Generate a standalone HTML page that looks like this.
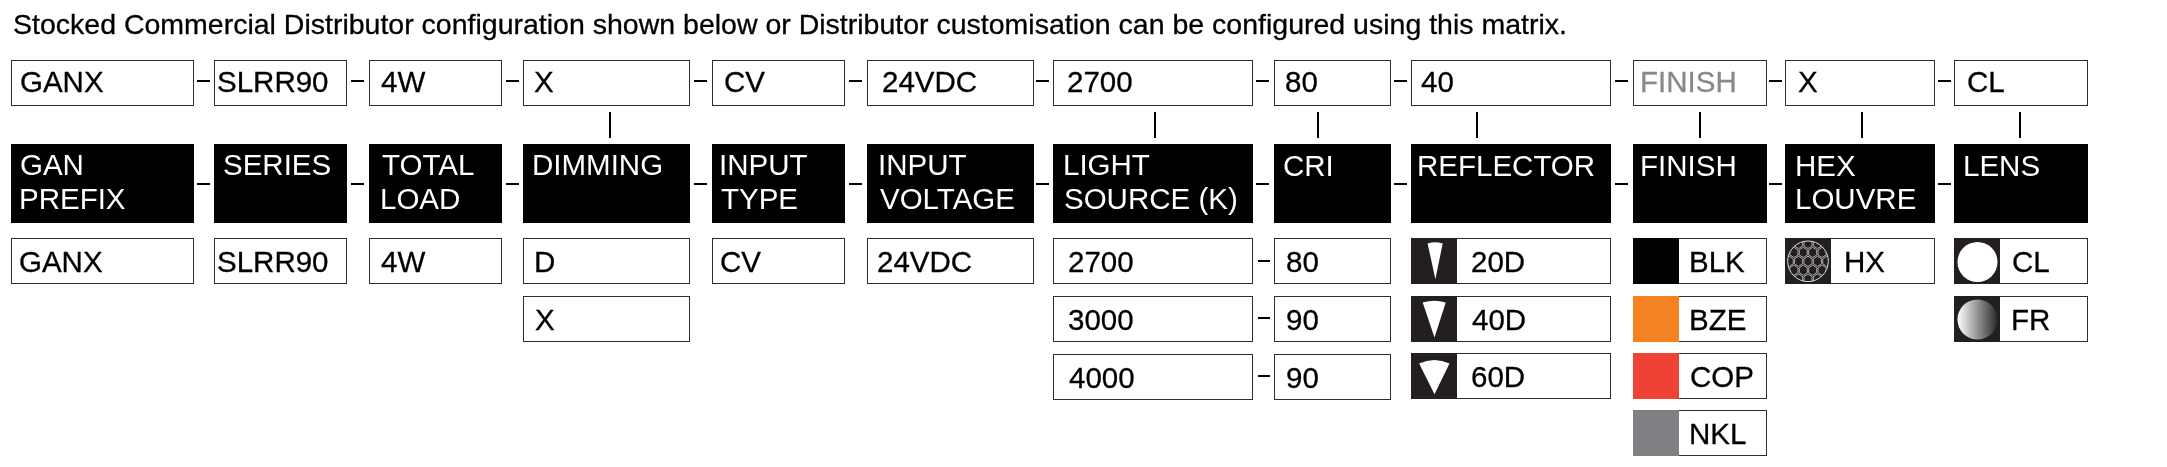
<!DOCTYPE html>
<html><head><meta charset="utf-8"><style>
html,body{margin:0;padding:0;background:#fff;width:2167px;height:467px;overflow:hidden}
body{position:relative;font-family:"Liberation Sans",sans-serif}
.t{position:absolute;white-space:nowrap;line-height:40px;will-change:transform;-webkit-text-stroke:0.3px currentColor}
.bx{position:absolute;box-sizing:border-box;border:1px solid #2e2e2e;background:#fff}
.r{position:absolute}
</style></head><body>
<div class="t" style="left:12.51px;top:4px;font-size:28.5px;color:#000;">Stocked Commercial Distributor configuration shown below or Distributor customisation can be configured using this matrix.</div>
<div class="bx" style="left:11px;top:60px;width:183px;height:46px;"></div>
<div class="t" style="left:19.72px;top:62px;font-size:29.5px;color:#000;">GANX</div>
<div class="bx" style="left:214px;top:60px;width:133px;height:46px;"></div>
<div class="t" style="left:216.96px;top:62px;font-size:29.5px;color:#000;">SLRR90</div>
<div class="bx" style="left:369px;top:60px;width:133px;height:46px;"></div>
<div class="t" style="left:380.62px;top:62px;font-size:29.5px;color:#000;">4W</div>
<div class="bx" style="left:523px;top:60px;width:167px;height:46px;"></div>
<div class="t" style="left:534.24px;top:62px;font-size:29.5px;color:#000;">X</div>
<div class="bx" style="left:712px;top:60px;width:133px;height:46px;"></div>
<div class="t" style="left:724.00px;top:62px;font-size:29.5px;color:#000;">CV</div>
<div class="bx" style="left:867px;top:60px;width:167px;height:46px;"></div>
<div class="t" style="left:881.52px;top:62px;font-size:29.5px;color:#000;">24VDC</div>
<div class="bx" style="left:1053px;top:60px;width:200px;height:46px;"></div>
<div class="t" style="left:1067.12px;top:62px;font-size:29.5px;color:#000;">2700</div>
<div class="bx" style="left:1274px;top:60px;width:117px;height:46px;"></div>
<div class="t" style="left:1285.42px;top:62px;font-size:29.5px;color:#000;">80</div>
<div class="bx" style="left:1411px;top:60px;width:200px;height:46px;"></div>
<div class="t" style="left:1421.02px;top:62px;font-size:29.5px;color:#000;">40</div>
<div class="bx" style="left:1633px;top:60px;width:134px;height:46px;"></div>
<div class="t" style="left:1639.58px;top:62px;font-size:29.5px;color:#86898d;">FINISH</div>
<div class="bx" style="left:1785px;top:60px;width:150px;height:46px;"></div>
<div class="t" style="left:1798.04px;top:62px;font-size:29.5px;color:#000;">X</div>
<div class="bx" style="left:1954px;top:60px;width:134px;height:46px;"></div>
<div class="t" style="left:1966.50px;top:62px;font-size:29.5px;color:#000;">CL</div>
<div class="r" style="left:197px;top:80px;width:13px;height:2px;background:#000;"></div>
<div class="r" style="left:197px;top:183px;width:13px;height:2px;background:#000;"></div>
<div class="r" style="left:351px;top:80px;width:13px;height:2px;background:#000;"></div>
<div class="r" style="left:351px;top:183px;width:13px;height:2px;background:#000;"></div>
<div class="r" style="left:506px;top:80px;width:13px;height:2px;background:#000;"></div>
<div class="r" style="left:506px;top:183px;width:13px;height:2px;background:#000;"></div>
<div class="r" style="left:694px;top:80px;width:13px;height:2px;background:#000;"></div>
<div class="r" style="left:694px;top:183px;width:13px;height:2px;background:#000;"></div>
<div class="r" style="left:849px;top:80px;width:13px;height:2px;background:#000;"></div>
<div class="r" style="left:849px;top:183px;width:13px;height:2px;background:#000;"></div>
<div class="r" style="left:1036px;top:80px;width:13px;height:2px;background:#000;"></div>
<div class="r" style="left:1036px;top:183px;width:13px;height:2px;background:#000;"></div>
<div class="r" style="left:1256px;top:80px;width:13px;height:2px;background:#000;"></div>
<div class="r" style="left:1256px;top:183px;width:13px;height:2px;background:#000;"></div>
<div class="r" style="left:1394px;top:80px;width:13px;height:2px;background:#000;"></div>
<div class="r" style="left:1394px;top:183px;width:13px;height:2px;background:#000;"></div>
<div class="r" style="left:1615px;top:80px;width:13px;height:2px;background:#000;"></div>
<div class="r" style="left:1615px;top:183px;width:13px;height:2px;background:#000;"></div>
<div class="r" style="left:1769px;top:80px;width:13px;height:2px;background:#000;"></div>
<div class="r" style="left:1769px;top:183px;width:13px;height:2px;background:#000;"></div>
<div class="r" style="left:1938px;top:80px;width:13px;height:2px;background:#000;"></div>
<div class="r" style="left:1938px;top:183px;width:13px;height:2px;background:#000;"></div>
<div class="r" style="left:609px;top:112px;width:2px;height:26px;background:#000;"></div>
<div class="r" style="left:1154px;top:112px;width:2px;height:26px;background:#000;"></div>
<div class="r" style="left:1317px;top:112px;width:2px;height:26px;background:#000;"></div>
<div class="r" style="left:1476px;top:112px;width:2px;height:26px;background:#000;"></div>
<div class="r" style="left:1699px;top:112px;width:2px;height:26px;background:#000;"></div>
<div class="r" style="left:1861px;top:112px;width:2px;height:26px;background:#000;"></div>
<div class="r" style="left:2019px;top:112px;width:2px;height:26px;background:#000;"></div>
<div class="r" style="left:11px;top:144px;width:183px;height:79px;background:#000;"></div>
<div class="t" style="left:19.92px;top:145px;font-size:29.5px;color:#fff;-webkit-text-stroke:0">GAN</div>
<div class="t" style="left:18.98px;top:179px;font-size:29.5px;color:#fff;-webkit-text-stroke:0">PREFIX</div>
<div class="r" style="left:214px;top:144px;width:133px;height:79px;background:#000;"></div>
<div class="t" style="left:223.46px;top:145px;font-size:29.5px;color:#fff;-webkit-text-stroke:0">SERIES</div>
<div class="r" style="left:369px;top:144px;width:133px;height:79px;background:#000;"></div>
<div class="t" style="left:382.04px;top:145px;font-size:29.5px;color:#fff;-webkit-text-stroke:0">TOTAL</div>
<div class="t" style="left:380.28px;top:179px;font-size:29.5px;color:#fff;-webkit-text-stroke:0">LOAD</div>
<div class="r" style="left:523px;top:144px;width:167px;height:79px;background:#000;"></div>
<div class="t" style="left:531.58px;top:145px;font-size:29.5px;color:#fff;-webkit-text-stroke:0">DIMMING</div>
<div class="r" style="left:712px;top:144px;width:133px;height:79px;background:#000;"></div>
<div class="t" style="left:719.28px;top:145px;font-size:29.5px;color:#fff;-webkit-text-stroke:0">INPUT</div>
<div class="t" style="left:721.34px;top:179px;font-size:29.5px;color:#fff;-webkit-text-stroke:0">TYPE</div>
<div class="r" style="left:867px;top:144px;width:167px;height:79px;background:#000;"></div>
<div class="t" style="left:877.88px;top:145px;font-size:29.5px;color:#fff;-webkit-text-stroke:0">INPUT</div>
<div class="t" style="left:880.47px;top:179px;font-size:29.5px;color:#fff;-webkit-text-stroke:0">VOLTAGE</div>
<div class="r" style="left:1053px;top:144px;width:200px;height:79px;background:#000;"></div>
<div class="t" style="left:1063.08px;top:145px;font-size:29.5px;color:#fff;-webkit-text-stroke:0">LIGHT</div>
<div class="t" style="left:1064.16px;top:179px;font-size:29.5px;color:#fff;-webkit-text-stroke:0">SOURCE (K)</div>
<div class="r" style="left:1274px;top:144px;width:117px;height:79px;background:#000;"></div>
<div class="t" style="left:1282.60px;top:146px;font-size:29.5px;color:#fff;-webkit-text-stroke:0">CRI</div>
<div class="r" style="left:1411px;top:144px;width:200px;height:79px;background:#000;"></div>
<div class="t" style="left:1417.48px;top:146px;font-size:29.5px;color:#fff;-webkit-text-stroke:0">REFLECTOR</div>
<div class="r" style="left:1633px;top:144px;width:134px;height:79px;background:#000;"></div>
<div class="t" style="left:1640.08px;top:146px;font-size:29.5px;color:#fff;-webkit-text-stroke:0">FINISH</div>
<div class="r" style="left:1785px;top:144px;width:150px;height:79px;background:#000;"></div>
<div class="t" style="left:1794.58px;top:146px;font-size:29.5px;color:#fff;-webkit-text-stroke:0">HEX</div>
<div class="t" style="left:1794.58px;top:179px;font-size:29.5px;color:#fff;-webkit-text-stroke:0">LOUVRE</div>
<div class="r" style="left:1954px;top:144px;width:134px;height:79px;background:#000;"></div>
<div class="t" style="left:1962.68px;top:146px;font-size:29.5px;color:#fff;-webkit-text-stroke:0">LENS</div>
<div class="bx" style="left:11px;top:238px;width:183px;height:46px;"></div>
<div class="t" style="left:19.42px;top:242px;font-size:29.5px;color:#000;">GANX</div>
<div class="bx" style="left:214px;top:238px;width:133px;height:46px;"></div>
<div class="t" style="left:216.76px;top:242px;font-size:29.5px;color:#000;">SLRR90</div>
<div class="bx" style="left:369px;top:238px;width:133px;height:46px;"></div>
<div class="t" style="left:380.72px;top:242px;font-size:29.5px;color:#000;">4W</div>
<div class="bx" style="left:523px;top:238px;width:167px;height:46px;"></div>
<div class="t" style="left:533.68px;top:242px;font-size:29.5px;color:#000;">D</div>
<div class="bx" style="left:523px;top:296px;width:167px;height:46px;"></div>
<div class="t" style="left:534.94px;top:300px;font-size:29.5px;color:#000;">X</div>
<div class="bx" style="left:712px;top:238px;width:133px;height:46px;"></div>
<div class="t" style="left:720.10px;top:242px;font-size:29.5px;color:#000;">CV</div>
<div class="bx" style="left:867px;top:238px;width:167px;height:46px;"></div>
<div class="t" style="left:877.22px;top:242px;font-size:29.5px;color:#000;">24VDC</div>
<div class="bx" style="left:1053px;top:238px;width:200px;height:46px;"></div>
<div class="t" style="left:1067.72px;top:242px;font-size:29.5px;color:#000;">2700</div>
<div class="bx" style="left:1274px;top:238px;width:117px;height:46px;"></div>
<div class="t" style="left:1286.02px;top:242px;font-size:29.5px;color:#000;">80</div>
<div class="r" style="left:1258px;top:260px;width:12px;height:2px;background:#000;"></div>
<div class="bx" style="left:1053px;top:296px;width:200px;height:46px;"></div>
<div class="t" style="left:1068.08px;top:300px;font-size:29.5px;color:#000;">3000</div>
<div class="bx" style="left:1274px;top:296px;width:117px;height:46px;"></div>
<div class="t" style="left:1285.92px;top:300px;font-size:29.5px;color:#000;">90</div>
<div class="r" style="left:1258px;top:317px;width:12px;height:2px;background:#000;"></div>
<div class="bx" style="left:1053px;top:354px;width:200px;height:46px;"></div>
<div class="t" style="left:1068.52px;top:358px;font-size:29.5px;color:#000;">4000</div>
<div class="bx" style="left:1274px;top:354px;width:117px;height:46px;"></div>
<div class="t" style="left:1285.92px;top:358px;font-size:29.5px;color:#000;">90</div>
<div class="r" style="left:1258px;top:375px;width:12px;height:2px;background:#000;"></div>
<div class="bx" style="left:1411px;top:238px;width:200px;height:46px;"></div>
<div class="r" style="left:1411px;top:238px;width:46px;height:46px;background:#231f20;"></div>
<svg class="r" style="left:1411px;top:238px" width="47" height="46" viewBox="0 0 47 46"><path d="M16.6 5.5 Q24.15 2.9000000000000004 31.7 5.5 L24.4 41.2 Z" fill="#fff"/></svg>
<div class="t" style="left:1471.22px;top:242px;font-size:29.5px;color:#000;">20D</div>
<div class="bx" style="left:1411px;top:296px;width:200px;height:46px;"></div>
<div class="r" style="left:1411px;top:296px;width:46px;height:46px;background:#231f20;"></div>
<svg class="r" style="left:1411px;top:296px" width="47" height="46" viewBox="0 0 47 46"><path d="M11.7 6.4 Q23.200000000000003 3.1999999999999993 34.7 6.4 L23.5 41.4 Z" fill="#fff"/></svg>
<div class="t" style="left:1472.02px;top:300px;font-size:29.5px;color:#000;">40D</div>
<div class="bx" style="left:1411px;top:353px;width:200px;height:46px;"></div>
<div class="r" style="left:1411px;top:353px;width:46px;height:46px;background:#231f20;"></div>
<svg class="r" style="left:1411px;top:353px" width="47" height="46" viewBox="0 0 47 46"><path d="M8.1 10.6 Q23.3 3.4000000000000004 38.5 10.6 L23.5 41.2 Z" fill="#fff"/></svg>
<div class="t" style="left:1471.20px;top:357px;font-size:29.5px;color:#000;">60D</div>
<div class="bx" style="left:1633px;top:238px;width:134px;height:46px;"></div>
<div class="r" style="left:1633px;top:238px;width:46px;height:46px;background:#000000;"></div>
<div class="t" style="left:1688.78px;top:242px;font-size:29.5px;color:#000;">BLK</div>
<div class="bx" style="left:1633px;top:296px;width:134px;height:46px;"></div>
<div class="r" style="left:1633px;top:296px;width:46px;height:46px;background:#f58220;"></div>
<div class="t" style="left:1688.78px;top:300px;font-size:29.5px;color:#000;">BZE</div>
<div class="bx" style="left:1633px;top:353px;width:134px;height:46px;"></div>
<div class="r" style="left:1633px;top:353px;width:46px;height:46px;background:#ef4136;"></div>
<div class="t" style="left:1689.70px;top:357px;font-size:29.5px;color:#000;">COP</div>
<div class="bx" style="left:1633px;top:410px;width:134px;height:46px;"></div>
<div class="r" style="left:1633px;top:410px;width:46px;height:46px;background:#7f8185;"></div>
<div class="t" style="left:1688.78px;top:414px;font-size:29.5px;color:#000;">NKL</div>
<div class="bx" style="left:1785px;top:238px;width:150px;height:46px;"></div>
<div class="r" style="left:1785px;top:238px;width:46px;height:46px;background:#231f20;"></div>
<svg class="r" style="left:1785px;top:238px" width="46" height="46" viewBox="0 0 46 46"><defs><clipPath id="hc"><circle cx="23.0" cy="23.3" r="20.3"/></clipPath></defs><g clip-path="url(#hc)"><path d="M-14.60 -17.40 L-10.56 -14.85 L-10.56 -9.75 L-14.60 -7.20 L-18.64 -9.75 L-18.64 -14.85Z M-5.20 -17.40 L-1.16 -14.85 L-1.16 -9.75 L-5.20 -7.20 L-9.24 -9.75 L-9.24 -14.85Z M4.20 -17.40 L8.24 -14.85 L8.24 -9.75 L4.20 -7.20 L0.16 -9.75 L0.16 -14.85Z M13.60 -17.40 L17.64 -14.85 L17.64 -9.75 L13.60 -7.20 L9.56 -9.75 L9.56 -14.85Z M23.00 -17.40 L27.04 -14.85 L27.04 -9.75 L23.00 -7.20 L18.96 -9.75 L18.96 -14.85Z M32.40 -17.40 L36.44 -14.85 L36.44 -9.75 L32.40 -7.20 L28.36 -9.75 L28.36 -14.85Z M41.80 -17.40 L45.84 -14.85 L45.84 -9.75 L41.80 -7.20 L37.76 -9.75 L37.76 -14.85Z M51.20 -17.40 L55.24 -14.85 L55.24 -9.75 L51.20 -7.20 L47.16 -9.75 L47.16 -14.85Z M60.60 -17.40 L64.64 -14.85 L64.64 -9.75 L60.60 -7.20 L56.56 -9.75 L56.56 -14.85Z M-9.90 -8.50 L-5.86 -5.95 L-5.86 -0.85 L-9.90 1.70 L-13.94 -0.85 L-13.94 -5.95Z M-0.50 -8.50 L3.54 -5.95 L3.54 -0.85 L-0.50 1.70 L-4.54 -0.85 L-4.54 -5.95Z M8.90 -8.50 L12.94 -5.95 L12.94 -0.85 L8.90 1.70 L4.86 -0.85 L4.86 -5.95Z M18.30 -8.50 L22.34 -5.95 L22.34 -0.85 L18.30 1.70 L14.26 -0.85 L14.26 -5.95Z M27.70 -8.50 L31.74 -5.95 L31.74 -0.85 L27.70 1.70 L23.66 -0.85 L23.66 -5.95Z M37.10 -8.50 L41.14 -5.95 L41.14 -0.85 L37.10 1.70 L33.06 -0.85 L33.06 -5.95Z M46.50 -8.50 L50.54 -5.95 L50.54 -0.85 L46.50 1.70 L42.46 -0.85 L42.46 -5.95Z M55.90 -8.50 L59.94 -5.95 L59.94 -0.85 L55.90 1.70 L51.86 -0.85 L51.86 -5.95Z M65.30 -8.50 L69.34 -5.95 L69.34 -0.85 L65.30 1.70 L61.26 -0.85 L61.26 -5.95Z M-14.60 0.40 L-10.56 2.95 L-10.56 8.05 L-14.60 10.60 L-18.64 8.05 L-18.64 2.95Z M-5.20 0.40 L-1.16 2.95 L-1.16 8.05 L-5.20 10.60 L-9.24 8.05 L-9.24 2.95Z M4.20 0.40 L8.24 2.95 L8.24 8.05 L4.20 10.60 L0.16 8.05 L0.16 2.95Z M13.60 0.40 L17.64 2.95 L17.64 8.05 L13.60 10.60 L9.56 8.05 L9.56 2.95Z M23.00 0.40 L27.04 2.95 L27.04 8.05 L23.00 10.60 L18.96 8.05 L18.96 2.95Z M32.40 0.40 L36.44 2.95 L36.44 8.05 L32.40 10.60 L28.36 8.05 L28.36 2.95Z M41.80 0.40 L45.84 2.95 L45.84 8.05 L41.80 10.60 L37.76 8.05 L37.76 2.95Z M51.20 0.40 L55.24 2.95 L55.24 8.05 L51.20 10.60 L47.16 8.05 L47.16 2.95Z M60.60 0.40 L64.64 2.95 L64.64 8.05 L60.60 10.60 L56.56 8.05 L56.56 2.95Z M-9.90 9.30 L-5.86 11.85 L-5.86 16.95 L-9.90 19.50 L-13.94 16.95 L-13.94 11.85Z M-0.50 9.30 L3.54 11.85 L3.54 16.95 L-0.50 19.50 L-4.54 16.95 L-4.54 11.85Z M8.90 9.30 L12.94 11.85 L12.94 16.95 L8.90 19.50 L4.86 16.95 L4.86 11.85Z M18.30 9.30 L22.34 11.85 L22.34 16.95 L18.30 19.50 L14.26 16.95 L14.26 11.85Z M27.70 9.30 L31.74 11.85 L31.74 16.95 L27.70 19.50 L23.66 16.95 L23.66 11.85Z M37.10 9.30 L41.14 11.85 L41.14 16.95 L37.10 19.50 L33.06 16.95 L33.06 11.85Z M46.50 9.30 L50.54 11.85 L50.54 16.95 L46.50 19.50 L42.46 16.95 L42.46 11.85Z M55.90 9.30 L59.94 11.85 L59.94 16.95 L55.90 19.50 L51.86 16.95 L51.86 11.85Z M65.30 9.30 L69.34 11.85 L69.34 16.95 L65.30 19.50 L61.26 16.95 L61.26 11.85Z M-14.60 18.20 L-10.56 20.75 L-10.56 25.85 L-14.60 28.40 L-18.64 25.85 L-18.64 20.75Z M-5.20 18.20 L-1.16 20.75 L-1.16 25.85 L-5.20 28.40 L-9.24 25.85 L-9.24 20.75Z M4.20 18.20 L8.24 20.75 L8.24 25.85 L4.20 28.40 L0.16 25.85 L0.16 20.75Z M13.60 18.20 L17.64 20.75 L17.64 25.85 L13.60 28.40 L9.56 25.85 L9.56 20.75Z M23.00 18.20 L27.04 20.75 L27.04 25.85 L23.00 28.40 L18.96 25.85 L18.96 20.75Z M32.40 18.20 L36.44 20.75 L36.44 25.85 L32.40 28.40 L28.36 25.85 L28.36 20.75Z M41.80 18.20 L45.84 20.75 L45.84 25.85 L41.80 28.40 L37.76 25.85 L37.76 20.75Z M51.20 18.20 L55.24 20.75 L55.24 25.85 L51.20 28.40 L47.16 25.85 L47.16 20.75Z M60.60 18.20 L64.64 20.75 L64.64 25.85 L60.60 28.40 L56.56 25.85 L56.56 20.75Z M-9.90 27.10 L-5.86 29.65 L-5.86 34.75 L-9.90 37.30 L-13.94 34.75 L-13.94 29.65Z M-0.50 27.10 L3.54 29.65 L3.54 34.75 L-0.50 37.30 L-4.54 34.75 L-4.54 29.65Z M8.90 27.10 L12.94 29.65 L12.94 34.75 L8.90 37.30 L4.86 34.75 L4.86 29.65Z M18.30 27.10 L22.34 29.65 L22.34 34.75 L18.30 37.30 L14.26 34.75 L14.26 29.65Z M27.70 27.10 L31.74 29.65 L31.74 34.75 L27.70 37.30 L23.66 34.75 L23.66 29.65Z M37.10 27.10 L41.14 29.65 L41.14 34.75 L37.10 37.30 L33.06 34.75 L33.06 29.65Z M46.50 27.10 L50.54 29.65 L50.54 34.75 L46.50 37.30 L42.46 34.75 L42.46 29.65Z M55.90 27.10 L59.94 29.65 L59.94 34.75 L55.90 37.30 L51.86 34.75 L51.86 29.65Z M65.30 27.10 L69.34 29.65 L69.34 34.75 L65.30 37.30 L61.26 34.75 L61.26 29.65Z M-14.60 36.00 L-10.56 38.55 L-10.56 43.65 L-14.60 46.20 L-18.64 43.65 L-18.64 38.55Z M-5.20 36.00 L-1.16 38.55 L-1.16 43.65 L-5.20 46.20 L-9.24 43.65 L-9.24 38.55Z M4.20 36.00 L8.24 38.55 L8.24 43.65 L4.20 46.20 L0.16 43.65 L0.16 38.55Z M13.60 36.00 L17.64 38.55 L17.64 43.65 L13.60 46.20 L9.56 43.65 L9.56 38.55Z M23.00 36.00 L27.04 38.55 L27.04 43.65 L23.00 46.20 L18.96 43.65 L18.96 38.55Z M32.40 36.00 L36.44 38.55 L36.44 43.65 L32.40 46.20 L28.36 43.65 L28.36 38.55Z M41.80 36.00 L45.84 38.55 L45.84 43.65 L41.80 46.20 L37.76 43.65 L37.76 38.55Z M51.20 36.00 L55.24 38.55 L55.24 43.65 L51.20 46.20 L47.16 43.65 L47.16 38.55Z M60.60 36.00 L64.64 38.55 L64.64 43.65 L60.60 46.20 L56.56 43.65 L56.56 38.55Z M-9.90 44.90 L-5.86 47.45 L-5.86 52.55 L-9.90 55.10 L-13.94 52.55 L-13.94 47.45Z M-0.50 44.90 L3.54 47.45 L3.54 52.55 L-0.50 55.10 L-4.54 52.55 L-4.54 47.45Z M8.90 44.90 L12.94 47.45 L12.94 52.55 L8.90 55.10 L4.86 52.55 L4.86 47.45Z M18.30 44.90 L22.34 47.45 L22.34 52.55 L18.30 55.10 L14.26 52.55 L14.26 47.45Z M27.70 44.90 L31.74 47.45 L31.74 52.55 L27.70 55.10 L23.66 52.55 L23.66 47.45Z M37.10 44.90 L41.14 47.45 L41.14 52.55 L37.10 55.10 L33.06 52.55 L33.06 47.45Z M46.50 44.90 L50.54 47.45 L50.54 52.55 L46.50 55.10 L42.46 52.55 L42.46 47.45Z M55.90 44.90 L59.94 47.45 L59.94 52.55 L55.90 55.10 L51.86 52.55 L51.86 47.45Z M65.30 44.90 L69.34 47.45 L69.34 52.55 L65.30 55.10 L61.26 52.55 L61.26 47.45Z M-14.60 53.80 L-10.56 56.35 L-10.56 61.45 L-14.60 64.00 L-18.64 61.45 L-18.64 56.35Z M-5.20 53.80 L-1.16 56.35 L-1.16 61.45 L-5.20 64.00 L-9.24 61.45 L-9.24 56.35Z M4.20 53.80 L8.24 56.35 L8.24 61.45 L4.20 64.00 L0.16 61.45 L0.16 56.35Z M13.60 53.80 L17.64 56.35 L17.64 61.45 L13.60 64.00 L9.56 61.45 L9.56 56.35Z M23.00 53.80 L27.04 56.35 L27.04 61.45 L23.00 64.00 L18.96 61.45 L18.96 56.35Z M32.40 53.80 L36.44 56.35 L36.44 61.45 L32.40 64.00 L28.36 61.45 L28.36 56.35Z M41.80 53.80 L45.84 56.35 L45.84 61.45 L41.80 64.00 L37.76 61.45 L37.76 56.35Z M51.20 53.80 L55.24 56.35 L55.24 61.45 L51.20 64.00 L47.16 61.45 L47.16 56.35Z M60.60 53.80 L64.64 56.35 L64.64 61.45 L60.60 64.00 L56.56 61.45 L56.56 56.35Z" fill="none" stroke="#b8b8b8" stroke-width="0.9"/></g><circle cx="23.0" cy="23.3" r="20.3" fill="none" stroke="#d8d8d8" stroke-width="1"/></svg>
<div class="t" style="left:1843.78px;top:242px;font-size:29.5px;color:#000;">HX</div>
<div class="bx" style="left:1954px;top:238px;width:134px;height:46px;"></div>
<div class="r" style="left:1954px;top:238px;width:46px;height:46px;background:#231f20;"></div>
<svg class="r" style="left:1954px;top:238px" width="46" height="46" viewBox="0 0 46 46"><circle cx="23.5" cy="24" r="20" fill="#fff"/></svg>
<div class="t" style="left:2012.30px;top:242px;font-size:29.5px;color:#000;">CL</div>
<div class="bx" style="left:1954px;top:296px;width:134px;height:46px;"></div>
<div class="r" style="left:1954px;top:296px;width:46px;height:46px;background:#231f20;"></div>
<svg class="r" style="left:1954px;top:296px" width="46" height="46" viewBox="0 0 46 46"><defs><linearGradient id="fg" x1="0" x2="1" y1="0" y2="0"><stop offset="0" stop-color="#ffffff"/><stop offset="1" stop-color="#2a2a2a"/></linearGradient></defs><circle cx="23.5" cy="23.5" r="20" fill="url(#fg)"/></svg>
<div class="t" style="left:2011.38px;top:300px;font-size:29.5px;color:#000;">FR</div>
</body></html>
